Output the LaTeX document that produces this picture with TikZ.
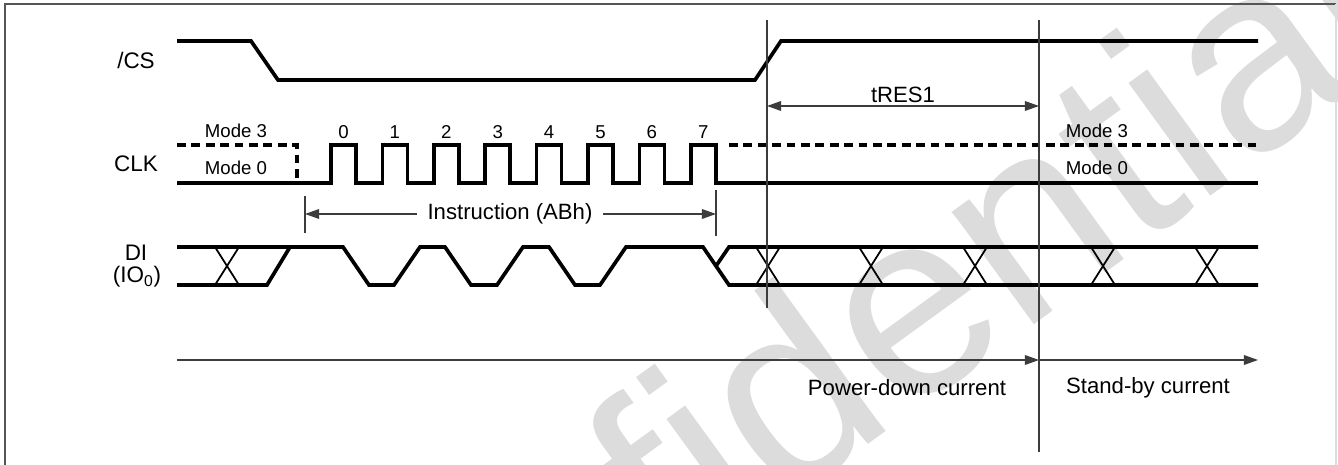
\documentclass[tikz,border=0pt]{standalone}
\usepackage{fontspec}
\setmainfont{Liberation Sans}
\usepackage{tikz}
\usetikzlibrary{arrows.meta,positioning,calc}
\usepackage{xcolor}
\definecolor{framegray}{RGB}{85,85,85}
\definecolor{guidegray}{RGB}{60,60,60}
\definecolor{markgray}{RGB}{220,220,220}
\tikzset{
    signal/.style={line width=2.1pt, black, line join=miter},
    modeline/.style={line width=2.1pt, black, dash pattern=on 5pt off 3.2pt},
    guide/.style={line width=0.75pt, guidegray},
    xcross/.style={line width=1pt, black},
    timing/.style={line width=0.75pt, guidegray, -{Triangle[length=8pt,width=5.5pt]}},
    timing2/.style={line width=0.75pt, guidegray, {Triangle[length=8pt,width=5.5pt]}-{Triangle[length=8pt,width=5.5pt]}},
    siglabel/.style={font=\fontsize{12.8}{14}\selectfont, inner sep=0pt},
    modelabel/.style={font=\fontsize{10.6}{12}\selectfont, inner sep=0pt},
    bitlabel/.style={font=\fontsize{10.6}{12}\selectfont, inner sep=0pt},
    textlabel/.style={font=\fontsize{12.6}{14}\selectfont, inner sep=0pt},
    watermark/.style={font=\fontsize{150}{152}\selectfont, text=markgray, inner sep=0pt},
}

\begin{document}
\begin{tikzpicture}[x=0.02cm, y=-0.02cm]
    \useasboundingbox (0,0) rectangle (1338,465);
    \clip (0,0) rectangle (1338,465);

    % Watermark
    \node[watermark, rotate=36] (wmark) at (792,384) {Confidential};

    % Frame
    \draw[framegray, line width=1pt] (5,470) -- (5,4) -- (1336,4);
    \draw[markgray, line width=0.6pt] (1336,4) -- (1336,470);

    % Signal names
    \node[siglabel] (cs) at (136,60) {/CS};
    \node[siglabel] (clk) at (136,164) {CLK};
    \node[siglabel] (di) at (136,253) {DI};
    \node[siglabel] (io) at (137,277) {(IO\textsubscript{0})};

    % /CS
    \draw[signal] (177,41) -- (251,41) -- (278,80) -- (755,80) -- (781,41) -- (1258,41);

    % CLK
    \draw[modeline] (177,145) -- (297,145) -- (297,183);
    \draw[modeline] (729,145) -- (1258,145);
    \draw[signal] (177,183)
        \foreach \k in {0,...,7} { -- ({331+51.4*\k},183) -- ({331+51.4*\k},145)
                                   -- ({356+51.4*\k},145) -- ({356+51.4*\k},183) }
        -- (1258,183);
    \foreach \k in {0,...,7} {
        \node[bitlabel] (bit\k) at ({343.5+51.4*\k},132) {\k};
    }
    \node[modelabel] (m3l) at (236,131) {Mode 3};
    \node[modelabel] (m0l) at (236,168) {Mode 0};
    \node[modelabel] (m3r) at (1097,131) {Mode 3};
    \node[modelabel] (m0r) at (1097,168) {Mode 0};

    % DI (IO0)
    \draw[signal] (177,247) -- (343,247) -- (369,285) -- (394,285) -- (420,247)
        -- (445,247) -- (471,285) -- (497,285) -- (523,247) -- (549,247)
        -- (575,285) -- (600,285) -- (626,247) -- (703,247) -- (729,285) -- (1258,285);
    \draw[signal] (177,285) -- (267,285) -- (290,247);
    \draw[signal] (716,266) -- (729,247) -- (1258,247);
    \foreach \c in {227,768,871,975,1103,1207} {
        \draw[xcross] (\c-12,247) -- (\c+12,285);
        \draw[xcross] (\c-12,285) -- (\c+12,247);
    }

    % Guides
    \coordinate (g1top) at (767,20);
    \coordinate (g1bot) at (767,308);
    \coordinate (g2top) at (1039,20);
    \coordinate (g2bot) at (1039,452);
    \coordinate (itop0) at (305,196);
    \coordinate (ibot0) at (305,233);
    \coordinate (itop1) at (716,190);
    \coordinate (ibot1) at (716,236);
    \draw[guide] (g1top) -- (g1bot);
    \draw[guide] (g2top) -- (g2bot);
    \draw[guide] (itop0) -- (ibot0);
    \draw[guide] (itop1) -- (ibot1);

    % Instruction
    \node[textlabel, inner xsep=6pt] (instr) at (510,214) {Instruction (ABh)};
    \coordinate (istart) at (305,214);
    \coordinate (iend) at (716,214);
    \draw[timing] (instr.west) -- (istart);
    \draw[timing] (instr.east) -- (iend);

    % tRES1
    \coordinate (tr0) at (767,106);
    \coordinate (tr1) at (1039,106);
    \draw[timing2] (tr0) -- (tr1);
    \node[textlabel] (tres) at (903,95) {tRES1};

    % Currents
    \coordinate (pd0) at (177,360);
    \coordinate (pd1) at (1039,360);
    \coordinate (sb1) at (1258,360);
    \draw[timing] (pd0) -- (pd1);
    \draw[timing] (pd1) -- (sb1);
    \node[textlabel] (pdown) at (907,388) {Power-down current};
    \node[textlabel] (sby) at (1148,388) {Stand-by current};
\end{tikzpicture}
\end{document}
